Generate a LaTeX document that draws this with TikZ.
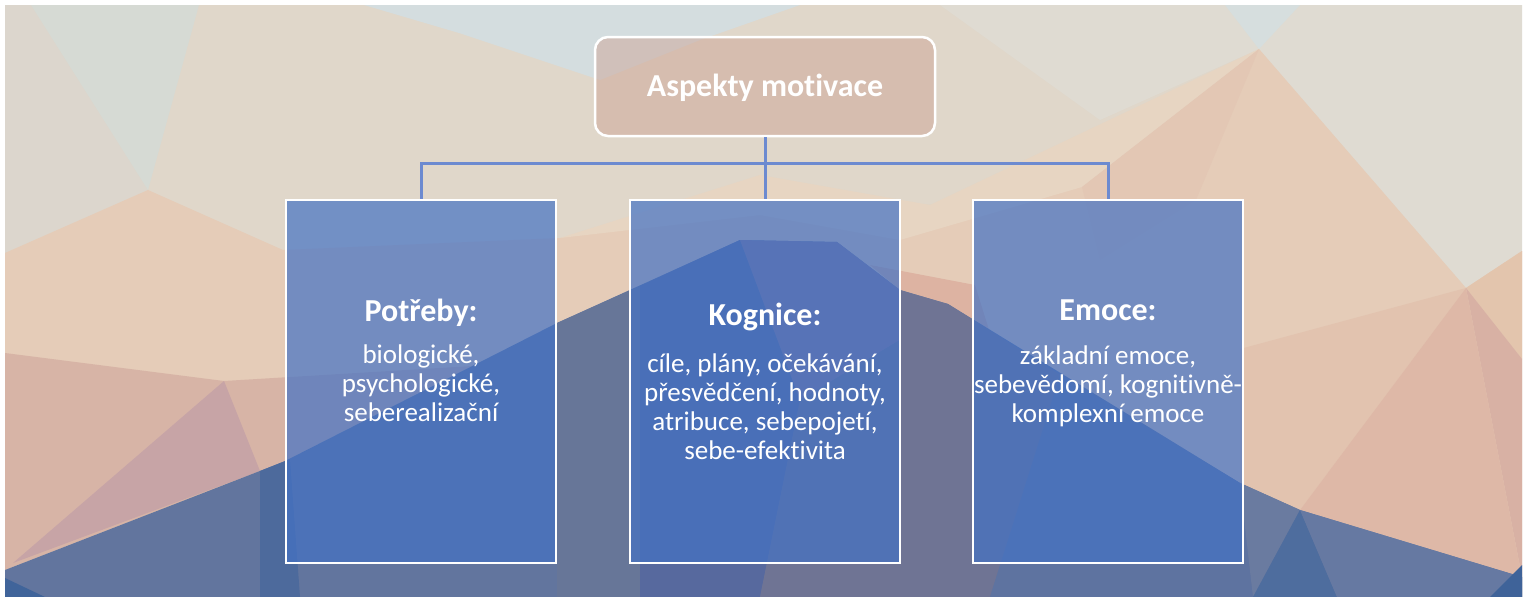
\documentclass[tikz,border=0pt]{standalone}
\usepackage{fontspec}
\setmainfont{Carlito}[Ligatures=NoCommon]
\definecolor{bgbase}{HTML}{E0D7CA}
\definecolor{boxblue}{HTML}{4472C4}
\definecolor{titlefill}{HTML}{CDA596}
\definecolor{connblue}{HTML}{6C8AD0}
\definecolor{c0}{HTML}{DCD6CD}
\definecolor{c1}{HTML}{D6DAD4}
\definecolor{c2}{HTML}{D4DDDF}
\definecolor{c3}{HTML}{DFDBD2}
\definecolor{c4}{HTML}{D6DEDE}
\definecolor{c5}{HTML}{E5CCB8}
\definecolor{c6}{HTML}{E7D5C2}
\definecolor{c7}{HTML}{E3C7B4}
\definecolor{c8}{HTML}{D7B4A6}
\definecolor{c9}{HTML}{C7A4A6}
\definecolor{c10}{HTML}{E3C5AD}
\definecolor{c11}{HTML}{D8B1A4}
\definecolor{c12}{HTML}{E2C3AF}
\definecolor{c13}{HTML}{DEB8A7}
\definecolor{c14}{HTML}{DDB3A2}
\definecolor{c15}{HTML}{62759E}
\definecolor{c16}{HTML}{40649A}
\definecolor{c17}{HTML}{4D6A9C}
\definecolor{c18}{HTML}{677698}
\definecolor{c19}{HTML}{57699E}
\definecolor{c20}{HTML}{84789A}
\definecolor{c21}{HTML}{6F7494}
\definecolor{c22}{HTML}{5E73A0}
\definecolor{c23}{HTML}{6A7BA0}
\definecolor{c24}{HTML}{4E6D9E}
\definecolor{c25}{HTML}{6679A2}
\definecolor{c26}{HTML}{3F6399}
\begin{document}
\begin{tikzpicture}[x=1pt,y=-1pt,
  cbox/.style={rectangle, minimum width=270pt, minimum height=363pt, fill=boxblue, fill opacity=0.7, draw=white, line width=2.5pt},
  tbox/.style={rectangle, rounded corners=13pt, minimum width=340pt, minimum height=99pt, fill=titlefill, fill opacity=0.5, draw=white, line width=2.5pt},
  head/.style={text=white, font=\bfseries\fontsize{32}{36}\selectfont, anchor=base, inner sep=0pt},
  body/.style={text=white, font=\fontsize{27}{29}\selectfont, align=center, anchor=base, inner sep=0pt},
  conn/.style={draw=connblue, line width=3pt}]
\useasboundingbox (0,0) rectangle (1526,597);
\fill[white] (0,0) rectangle (1526,597);
% ---------- background low-poly ----------
\fill[bgbase] (5,5) rectangle (1522,597);
\fill[c0] (5,5) -- (31,5) -- (148,190) -- (5,253) -- cycle;
\fill[c1] (31,5) -- (199,5) -- (148,190) -- cycle;
\fill[c2] (364,5) -- (800,5) -- (700,40) -- (600,80) -- (459,33) -- cycle;
\fill[c3] (940,5) -- (1522,5) -- (1522,251) -- (1466,288) -- (1259,49) -- (1100,120) -- cycle;
\fill[c4] (1225,5) -- (1300,5) -- (1259,49) -- cycle;
% peach band
\fill[c5] (5,253) -- (148,190) -- (283,250) -- (560,238) -- (760,200) -- (930,205) -- (1082,187) -- (1259,49) -- (1466,288) -- (1522,251) -- (1522,597) -- (5,597) -- cycle;
\fill[c6] (560,238) -- (760,175) -- (930,205) -- (1259,49) -- (1082,187) -- (900,240) -- (760,215) -- cycle;
\fill[c7] (1082,187) -- (1259,49) -- (1196,200) -- (1100,260) -- cycle;
% left pinks
\fill[c8] (5,353) -- (224,381) -- (472,366) -- (283,462) -- (5,570) -- cycle;
\fill[c9] (224,381) -- (13,563) -- (260,471) -- cycle;
% right pinks
\fill[c10] (1466,288) -- (1522,251) -- (1522,359) -- cycle;
\fill[c11] (1466,288) -- (1522,359) -- (1522,577) -- cycle;
\fill[c12] (1240,349) -- (1466,288) -- (1300,510) -- (1240,483) -- cycle;
\fill[c13] (1466,288) -- (1522,577) -- (1300,510) -- cycle;
\fill[c14] (870,265) -- (975,285) -- (990,333) -- (948,304) -- (900,290) -- cycle;
% blue mountain
\fill[c15] (5,570) -- (283,462) -- (557,323) -- (740,240) -- (837,242) -- (900,290) -- (948,304) -- (1240,483) -- (1300,510) -- (1522,577) -- (1522,597) -- (5,597) -- cycle;
\fill[c16] (5,578) -- (5,597) -- (45,597) -- cycle;
\fill[c17] (260,471) -- (290,459) -- (300,597) -- (260,597) -- cycle;
\fill[c18] (557,323) -- (640,286) -- (640,597) -- (557,597) -- cycle;
\fill[c19] (640,286) -- (740,240) -- (800,400) -- (760,597) -- (640,597) -- cycle;
\fill[c20] (740,240) -- (837,242) -- (900,290) -- (900,340) -- (800,400) -- cycle;
\fill[c21] (800,400) -- (900,340) -- (900,290) -- (948,304) -- (1060,375) -- (990,597) -- (760,597) -- cycle;
\fill[c22] (1060,375) -- (1240,483) -- (1253,597) -- (990,597) -- cycle;
\fill[c23] (1240,483) -- (1300,510) -- (1253,597) -- cycle;
\fill[c24] (1300,510) -- (1253,597) -- (1337,597) -- cycle;
\fill[c25] (1300,510) -- (1522,577) -- (1522,597) -- (1337,597) -- cycle;
\fill[c26] (1490,597) -- (1522,565) -- (1522,597) -- cycle;
% ---------- diagram ----------
\node[tbox] (title) at (765,86.5) {};
\node[cbox] (pot) at (421,381.5) {};
\node[cbox] (kog) at (765,381.5) {};
\node[cbox] (emo) at (1108,381.5) {};
\coordinate (jl) at (421,163);
\coordinate (jr) at (1108,163);
\draw[conn] (title.south) -- (kog.north);
\draw[conn] (pot.north) -- (jl) -- (jr) -- (emo.north);
\node[head] (ttext) at (765,96) {Aspekty motivace};
\node[head] (poth) at (421,321) {Potřeby:};
\node[head] (kogh) at (765,325) {Kognice:};
\node[head] (emoh) at (1108,320) {Emoce:};
\node[body] (potb) at (421,421) {biologické,\\psychologické,\\seberealizační};
\node[body] (kogb) at (765,459) {cíle, plány, očekávání,\\přesvědčení, hodnoty,\\atribuce, sebepojetí,\\sebe-efektivita};
\node[body] (emob) at (1108,422) {základní emoce,\\sebevědomí, kognitivně-\\komplexní emoce};
\end{tikzpicture}
\end{document}
